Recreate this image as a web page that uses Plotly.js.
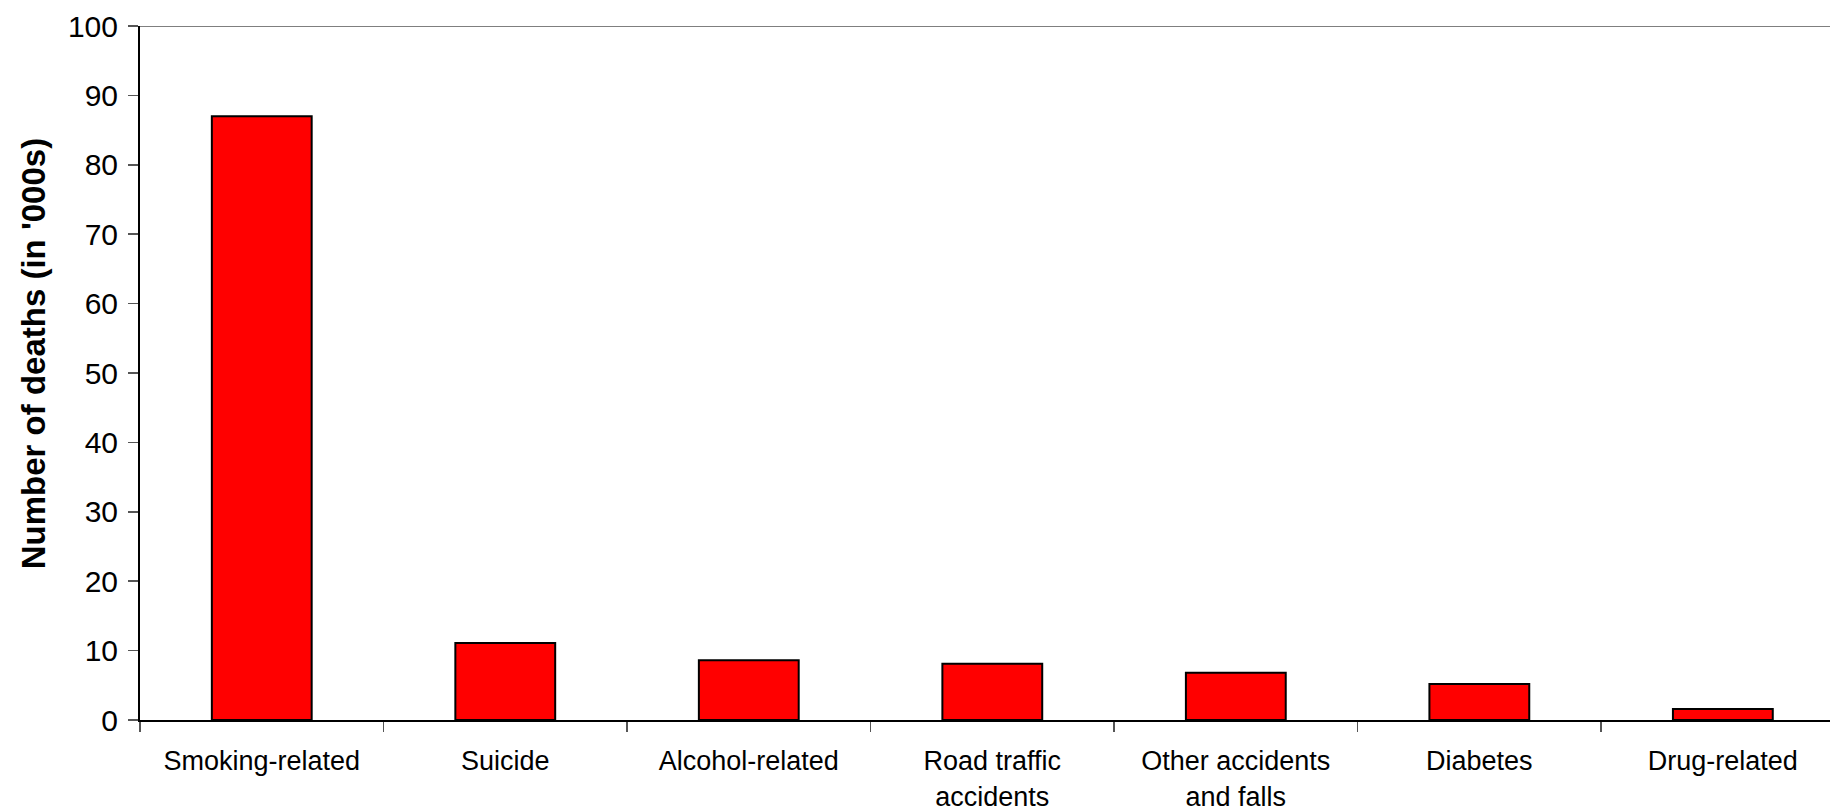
<!DOCTYPE html>
<html>
<head>
<meta charset="utf-8">
<script src="https://cdn.plot.ly/plotly-3.0.1.min.js"></script>
<style>html,body{margin:0;padding:0;background:#fff;}#chart{width:1830px;height:812px;}</style>
</head>
<body>
<div id="chart"></div>
<script>
const categories = ["Smoking-related", "Suicide", "Alcohol-related", "Road traffic<br>accidents", "Other accidents<br>and falls", "Diabetes", "Drug-related"];
const deaths = [87.0, 11.1, 8.6, 8.1, 6.8, 5.2, 1.6];
const yTickVals = [0, 10, 20, 30, 40, 50, 60, 70, 80, 90, 100];
const yTitle = "Number of deaths (in '000s)";

const FONT = "Liberation Sans, Arial, sans-serif";

const trace = {
  type: "bar",
  x: categories,
  y: deaths,
  marker: { color: "#FF0000", line: { color: "#000000", width: 2 } },
  hoverinfo: "x+y"
};

const layout = {
  width: 1830,
  height: 812,
  margin: { l: 140, r: 0, t: 26, b: 92, pad: 0 },
  paper_bgcolor: "#ffffff",
  plot_bgcolor: "#ffffff",
  showlegend: false,
  bargap: 0.59,
  font: { family: FONT, color: "#000000" },
  xaxis: {
    type: "category",
    range: [-0.5, 6.44],
    tickson: "boundaries",
    ticks: "outside",
    ticklen: 10,
    tickwidth: 1.5,
    tickcolor: "#555555",
    ticklabelstandoff: 16,
    showline: true,
    linecolor: "#000000",
    linewidth: 2,
    showgrid: false,
    zeroline: false,
    tickfont: { family: FONT, size: 27, color: "#000000" },
    fixedrange: true
  },
  yaxis: {
    range: [0, 100],
    tickmode: "array",
    tickvals: yTickVals,
    ticktext: yTickVals.map(String),
    ticks: "outside",
    ticklen: 10,
    tickwidth: 1.5,
    tickcolor: "#555555",
    ticklabelstandoff: 4,
    showline: true,
    linecolor: "#000000",
    linewidth: 2,
    showgrid: false,
    zeroline: false,
    tickfont: { family: FONT, size: 30, color: "#000000" },
    fixedrange: true
  },
  annotations: [
    {
      text: "<b>" + yTitle + "</b>",
      xref: "paper", yref: "paper",
      x: -0.0633, y: 0.527,
      xanchor: "center", yanchor: "middle",
      textangle: -90,
      showarrow: false,
      font: { family: FONT, size: 33, color: "#000000" }
    }
  ],
  shapes: [
    { type: "line", xref: "paper", yref: "y", x0: 0, x1: 1, y0: 100, y1: 100, line: { color: "#555555", width: 1.5 } }
  ]
};

Plotly.newPlot("chart", [trace], layout, { displayModeBar: false, staticPlot: true });
</script>
</body>
</html>
